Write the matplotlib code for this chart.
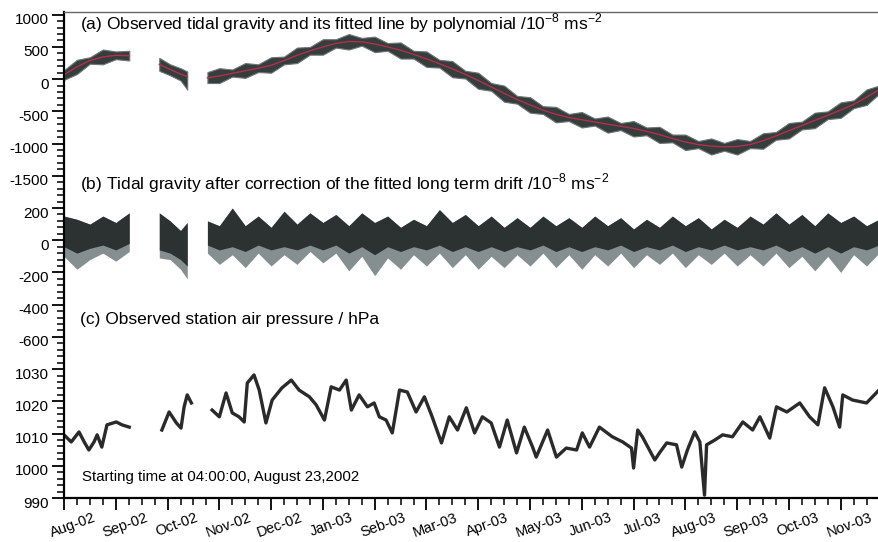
"""Tidal gravity record: observed series with polynomial drift, drift-corrected
residual, and station air pressure, stacked on one shared time axis."""

import matplotlib
matplotlib.use("Agg")
import matplotlib.pyplot as plt
import matplotlib.transforms as mtransforms
from matplotlib.ticker import MultipleLocator

plt.rcParams["font.family"] = ["Liberation Sans", "DejaVu Sans"]
plt.rcParams["axes.unicode_minus"] = False

MONTH_LABELS = ["Aug-02", "Sep-02", "Oct-02", "Nov-02", "Dec-02", "Jan-03",
                "Seb-03", "Mar-03", "Apr-03", "May-03", "Jun-03", "Jul-03",
                "Aug-03", "Sep-03", "Oct-03", "Nov-03"]

# time axis: months since the start of the record (04:00, 23 Aug 2002)
SEG1_T = [0.0, 0.25, 0.5, 0.75, 1.0, 1.26]
SEG2_T = [1.84, 2.05, 2.25, 2.38]
SEG3_T = [2.77, 3.0, 3.25, 3.5, 3.75, 4.0, 4.25, 4.5, 4.75, 5.0, 5.25, 5.5,
          5.75, 6.0, 6.25, 6.5, 6.75, 7.0, 7.25, 7.5, 7.75, 8.0, 8.25, 8.5,
          8.75, 9.0, 9.25, 9.5, 9.75, 10.0, 10.25, 10.5, 10.75, 11.0, 11.25,
          11.5, 11.75, 12.0, 12.25, 12.5, 12.75, 13.0, 13.25, 13.5, 13.75,
          14.0, 14.25, 14.5, 14.75, 15.0, 15.25, 15.5, 15.74]

# (a) observed gravity: fitted drift and envelope of the tidal signal
A_FIT1 = [70, 190, 290, 345, 370, 365]
A_UP1 = [140, 300, 340, 460, 430, 440]
A_LO1 = [-10, 80, 240, 230, 310, 290]
A_FIT2 = [230, 150, 80, 40]
A_UP2 = [330, 230, 170, 120]
A_LO2 = [130, 60, -20, -160]
A_FIT3 = [20, 50, 90, 130, 170, 215, 290, 370, 440, 500, 555, 585, 580, 545,
          500, 450, 385, 315, 240, 160, 75, -20, -120, -220, -315, -400, -480,
          -545, -595, -630, -665, -700, -730, -765, -810, -860, -920, -975,
          -1015, -1040, -1050, -1045, -1015, -955, -880, -800, -720, -640,
          -560, -480, -390, -280, -165]
A_UP3 = [110, 170, 150, 250, 230, 340, 350, 490, 500, 620, 620, 700, 640, 660,
         560, 570, 440, 430, 300, 280, 130, 100, -60, -100, -260, -280, -420,
         -430, -540, -510, -610, -580, -680, -650, -750, -740, -860, -860,
         -960, -920, -990, -930, -960, -840, -820, -680, -660, -520, -500,
         -360, -330, -160, -100]
A_LO3 = [-60, -60, 40, 20, 110, 100, 230, 250, 380, 380, 490, 460, 520, 420,
         440, 320, 320, 190, 180, 30, 10, -150, -180, -350, -380, -520, -540,
         -670, -650, -750, -720, -830, -790, -890, -870, -990, -980, -1100,
         -1070, -1170, -1110, -1170, -1070, -1080, -940, -920, -780, -760,
         -620, -600, -450, -400, -230]

# (b) residual after drift removal: outer envelope and the dark inner core
B_UP1 = [150, 130, 100, 150, 110, 170]
B_LO1 = [-100, -180, -120, -80, -130, -70]
B_DK1 = [-40, -80, -50, -30, -60, -20]
B_UP2 = [170, 120, 60, 110]
B_LO2 = [-110, -120, -180, -240]
B_DK2 = [-60, -80, -120, -160]
B_UP3 = [120, 90, 200, 90, 150, 80, 180, 100, 170, 110, 160, 90, 170, 110,
         150, 80, 130, 90, 190, 110, 160, 90, 150, 80, 140, 80, 150, 90, 140,
         80, 150, 90, 140, 70, 130, 80, 150, 90, 140, 70, 130, 80, 150, 100,
         170, 100, 160, 90, 170, 110, 150, 90, 130]
B_LO3 = [-80, -150, -90, -170, -80, -160, -90, -150, -70, -140, -80, -190,
         -100, -220, -110, -180, -90, -160, -80, -170, -90, -180, -100, -170,
         -90, -160, -80, -170, -90, -180, -90, -160, -80, -170, -90, -150,
         -80, -170, -90, -150, -80, -160, -90, -160, -80, -170, -100, -190,
         -100, -200, -90, -160, -80]
B_DK3 = [-30, -60, -40, -70, -30, -60, -40, -60, -30, -60, -30, -80, -40,
         -90, -40, -70, -40, -60, -30, -70, -40, -70, -40, -70, -40, -60,
         -30, -70, -40, -70, -40, -60, -30, -70, -40, -60, -30, -70, -40,
         -60, -30, -60, -40, -60, -30, -70, -40, -80, -40, -80, -40, -60, -30]

# (c) station air pressure, hPa
C_T1 = [0.0, 0.14, 0.29, 0.39, 0.48, 0.58, 0.64, 0.73, 0.83, 1.01, 1.12, 1.26]
C_P1 = [1009.6, 1007.4, 1010.5, 1007.4, 1004.9, 1007.4, 1009.6, 1005.8,
        1012.7, 1013.6, 1012.7, 1012.0]
C_T2 = [1.89, 2.03, 2.17, 2.26, 2.32, 2.38, 2.46]
C_P2 = [1011.1, 1016.7, 1013.3, 1011.7, 1018.3, 1022.0, 1019.5]
C_T3 = [2.86, 3.00, 3.13, 3.25, 3.38, 3.48, 3.54, 3.67, 3.77, 3.90, 4.02,
        4.21, 4.39, 4.54, 4.74, 4.87, 5.03, 5.16, 5.32, 5.45, 5.55, 5.70,
        5.86, 5.99, 6.09, 6.22, 6.34, 6.48, 6.63, 6.80, 6.96, 7.11, 7.29,
        7.44, 7.60, 7.77, 7.93, 8.08, 8.25, 8.41, 8.56, 8.74, 8.89, 9.05,
        9.12, 9.34, 9.51, 9.70, 9.90, 10.01, 10.15, 10.34, 10.59, 10.79,
        10.96, 11.00, 11.08, 11.17, 11.41, 11.50, 11.64, 11.83, 11.93, 12.04,
        12.18, 12.28, 12.37, 12.41, 12.57, 12.72, 12.91, 13.11, 13.30, 13.44,
        13.63, 13.76, 13.96, 14.21, 14.40, 14.56, 14.69, 14.85, 14.98, 15.04,
        15.23, 15.50, 15.74]
C_P3 = [1017.3, 1015.2, 1022.6, 1016.4, 1015.2, 1013.6, 1025.7, 1028.2,
        1023.5, 1013.3, 1020.4, 1024.2, 1026.6, 1023.5, 1021.4, 1018.9,
        1014.2, 1024.5, 1023.5, 1026.6, 1017.3, 1022.0, 1018.3, 1019.5,
        1015.2, 1014.2, 1010.2, 1023.5, 1022.9, 1016.7, 1021.4, 1015.2,
        1007.1, 1015.2, 1011.1, 1018.0, 1010.2, 1015.2, 1013.3, 1005.8,
        1014.2, 1004.0, 1012.0, 1005.8, 1002.7, 1011.1, 1002.7, 1005.5,
        1004.9, 1010.2, 1005.8, 1012.0, 1009.0, 1007.4, 1005.5, 999.3,
        1011.1, 1009.0, 1001.8, 1004.0, 1007.1, 1006.5, 999.6, 1004.9,
        1010.5, 1007.4, 990.9, 1006.5, 1008.0, 1009.6, 1009.0, 1013.6,
        1011.1, 1015.2, 1008.6, 1018.3, 1016.7, 1019.5, 1015.2, 1012.7,
        1024.2, 1018.3, 1012.0, 1022.0, 1020.4, 1019.5, 1023.5]


def main():
    fig = plt.figure(figsize=(8.79, 5.42), dpi=100)
    gs = fig.add_gridspec(3, 1, height_ratios=[5.6, 5.0, 4.5], hspace=0,
                          left=64 / 879, right=1.0,
                          top=1 - 11.5 / 542, bottom=1 - 498 / 542)
    ax_a = fig.add_subplot(gs[0])
    ax_b = fig.add_subplot(gs[1], sharex=ax_a)
    ax_c = fig.add_subplot(gs[2], sharex=ax_a)

    # (a) observed gravity and fitted drift
    for t, up, lo, fit in [(SEG1_T, A_UP1, A_LO1, A_FIT1),
                           (SEG2_T, A_UP2, A_LO2, A_FIT2),
                           (SEG3_T, A_UP3, A_LO3, A_FIT3)]:
        ax_a.fill_between(t, lo, up, color="#363d3d", lw=0.8, ec="#6d7575")
        ax_a.plot(t, fit, color="#b2304a", lw=1.0)

    # (b) residual gravity
    for t, up, lo, dk in [(SEG1_T, B_UP1, B_LO1, B_DK1),
                          (SEG2_T, B_UP2, B_LO2, B_DK2),
                          (SEG3_T, B_UP3, B_LO3, B_DK3)]:
        ax_b.fill_between(t, lo, up, color="#868f8f", lw=0)
        ax_b.fill_between(t, dk, up, color="#2c3232", lw=0)

    # (c) air pressure
    for t, p in [(C_T1, C_P1), (C_T2, C_P2), (C_T3, C_P3)]:
        ax_c.plot(t, p, color="#2a2a2a", lw=2.4)

    ax_a.set_ylim(-1750, 1050)
    ax_b.set_ylim(-700, 300)
    ax_c.set_ylim(990, 1035)
    ax_a.set_yticks([1000, 500, 0, -500, -1000, -1500])
    ax_b.set_yticks([200, 0, -200, -400, -600])
    ax_c.set_yticks([1030, 1020, 1010, 1000, 990])
    ax_a.yaxis.set_minor_locator(MultipleLocator(100))
    ax_b.yaxis.set_minor_locator(MultipleLocator(40))
    ax_c.yaxis.set_minor_locator(MultipleLocator(2))

    ax_c.set_xlim(0, 15.74)
    ax_c.set_xticks(range(len(MONTH_LABELS)))
    ax_c.set_xticklabels(MONTH_LABELS, rotation=20, ha="center")
    ax_c.xaxis.set_minor_locator(MultipleLocator(0.25))

    for ax in (ax_a, ax_b, ax_c):
        ax.spines["right"].set_visible(False)
        ax.spines["left"].set_linewidth(1.6)
        ax.tick_params(axis="y", which="major", direction="out", length=9,
                       width=1.3, labelsize=11, pad=2)
        ax.tick_params(axis="y", which="minor", direction="out", length=5,
                       width=1.1)
    for ax in (ax_a, ax_b):
        ax.spines["bottom"].set_visible(False)
        ax.tick_params(axis="x", which="both", bottom=False, labelbottom=False)
    for ax in (ax_b, ax_c):
        ax.spines["top"].set_visible(False)
    ax_a.spines["top"].set_linewidth(1.0)
    ax_a.spines["top"].set_color("#666666")
    ax_c.spines["bottom"].set_linewidth(1.6)
    ax_c.tick_params(axis="x", which="major", direction="out", length=8.5,
                     width=1.3, labelsize=10.5, pad=0.5)
    ax_c.tick_params(axis="x", which="minor", direction="out", length=5,
                     width=1.1)

    # labels of the original sit a little below their ticks
    down = mtransforms.ScaledTranslation(0, -4 / 100, fig.dpi_scale_trans)
    right = mtransforms.ScaledTranslation(9 / 100, 0, fig.dpi_scale_trans)
    for ax in (ax_a, ax_b, ax_c):
        for lbl in ax.get_yticklabels():
            lbl.set_transform(lbl.get_transform() + down)
    for lbl in ax_c.get_xticklabels():
        lbl.set_transform(lbl.get_transform() + right)

    txt = dict(fontsize=12.5, ha="left", va="center")
    ax_a.text(0.02, 0.936, "(a) Observed tidal gravity and its fitted line by "
              r"polynomial /10$^{\mathregular{-8}}$ ms$^{\mathregular{-2}}$",
              transform=ax_a.transAxes, **txt)
    ax_b.text(0.02, 1.055, "(b) Tidal gravity after correction of the fitted "
              r"long term drift /10$^{\mathregular{-8}}$ ms$^{\mathregular{-2}}$",
              transform=ax_b.transAxes, clip_on=False, **txt)
    ax_b.text(0.02, 0.206, "(c) Observed station air pressure / hPa",
              transform=ax_b.transAxes, **txt)
    ax_c.text(0.022, 0.145, "Starting time at 04:00:00, August 23,2002",
              transform=ax_c.transAxes, fontsize=10.8, ha="left", va="center")

    fig.savefig("out.png", dpi=100)
    plt.close(fig)


if __name__ == "__main__":
    main()
